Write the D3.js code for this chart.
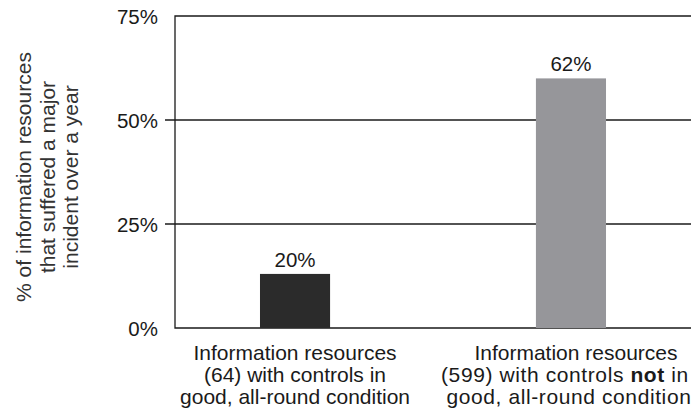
<!DOCTYPE html>
<html>
<head>
<meta charset="utf-8">
<script src="https://cdn.jsdelivr.net/npm/d3@7"></script>
<style>
  body { margin: 0; background: #fff; }
  text { font-family: "Liberation Sans", Arial, Helvetica, sans-serif; fill: #1a1a1a; }
</style>
</head>
<body>
<div class="view1"></div>
<script>
// categories (each split into lines; bold parts marked with *)
const categories = ["good", "notGood"];
const categoryLines = [
    ["Information resources", "(64) with controls in", "good, all-round condition"],
    ["Information resources", "(599) with controls *not* in", "good, all-round condition"]
];
// bar heights as drawn in the picture, and the labels printed above them
const barValues = [13, 60];
const barLabels = ["20%", "62%"];
const barColors = ["#2b2b2b", "#96969a"];
// y ticks
const yTicks = [0, 25, 50, 75];
const yTitle = ["% of information resources", "that suffered a major", "incident over a year"];

//Sizes - plot runs off the right edge like the original
const width = 691, height = 412;
const margin = {top: 16, left: 175, bottom: 84};

let svg = d3.select(".view1").append("svg")
    .attr("width", width)
    .attr("height", height);

let y = d3.scaleLinear()
    .domain([0, 75])
    .range([height - margin.bottom, margin.top]);

let x = d3.scaleBand()
    .domain(categories)
    .range([margin.left, width])
    .paddingInner(0.746)
    .paddingOuter(0.308);

// grid lines at 25 and 50 (with little ticks sticking out left)
svg.append("g")
    .selectAll("line")
    .data(yTicks.filter(d => d > 0 && d < 75))
    .enter().append("line")
    .attr("x1", margin.left - 10)
    .attr("x2", width)
    .attr("y1", d => y(d))
    .attr("y2", d => y(d))
    .attr("stroke", "#1a1a1a")
    .attr("stroke-width", 1.3);

// frame: top, left, bottom
svg.append("path")
    .attr("d", "M" + width + "," + y(75) + "H" + margin.left + "V" + y(0) + "H" + width)
    .attr("stroke", "#1a1a1a")
    .attr("stroke-width", 1.3)
    .attr("fill", "none");

// bars
svg.append("g")
    .selectAll("rect")
    .data(barValues)
    .enter().append("rect")
    .attr("x", (d, i) => x(categories[i]))
    .attr("width", x.bandwidth())
    .attr("y", d => y(d))
    .attr("height", d => y(0) - y(d))
    .attr("fill", (d, i) => barColors[i]);

// value labels above bars
svg.append("g")
    .selectAll("text")
    .data(barValues)
    .enter().append("text")
    .attr("x", (d, i) => x(categories[i]) + x.bandwidth() / 2)
    .attr("y", d => y(d) - 7)
    .attr("text-anchor", "middle")
    .style("font-size", "20.5px")
    .text((d, i) => barLabels[i]);

// y tick labels
svg.append("g")
    .selectAll("text")
    .data(yTicks)
    .enter().append("text")
    .attr("x", margin.left - 17)
    .attr("y", d => y(d) + 8)
    .attr("text-anchor", "end")
    .style("font-size", "20.5px")
    .text(d => d + "%");

// y title, rotated, three lines
let title = svg.append("text")
    .attr("transform", "translate(31," + ((y(0) + y(75)) / 2 + 5) + ") rotate(-90)")
    .attr("text-anchor", "middle")
    .style("font-size", "21px")
    .style("fill", "#333");
yTitle.forEach((t, i) => {
    title.append("tspan")
        .attr("x", 0)
        .attr("y", i * 23.5)
        .text(t);
});

// category labels (second one is a touch wider and runs off the edge in the original)
const lineShift = [[0, 0, 0], [5, -6, -2]];
const lineSpacing = [[0, 0, 0], [0, 0.6, 0.6]];
categoryLines.forEach((lines, i) => {
    let cx = x(categories[i]) + x.bandwidth() / 2;
    let t = svg.append("text")
        .attr("text-anchor", "middle")
        .style("font-size", "21px");
    lines.forEach((line, j) => {
        let parts = line.split("*");
        parts.forEach((p, k) => {
            let ts = t.append("tspan").text(p)
                .style("letter-spacing", lineSpacing[i][j] + "px");
            if (k === 0) ts.attr("x", cx + lineShift[i][j]).attr("y", y(0) + 32 + j * 22);
            if (k % 2 === 1) ts.style("font-weight", "bold");
        });
    });
});
</script>
</body>
</html>
